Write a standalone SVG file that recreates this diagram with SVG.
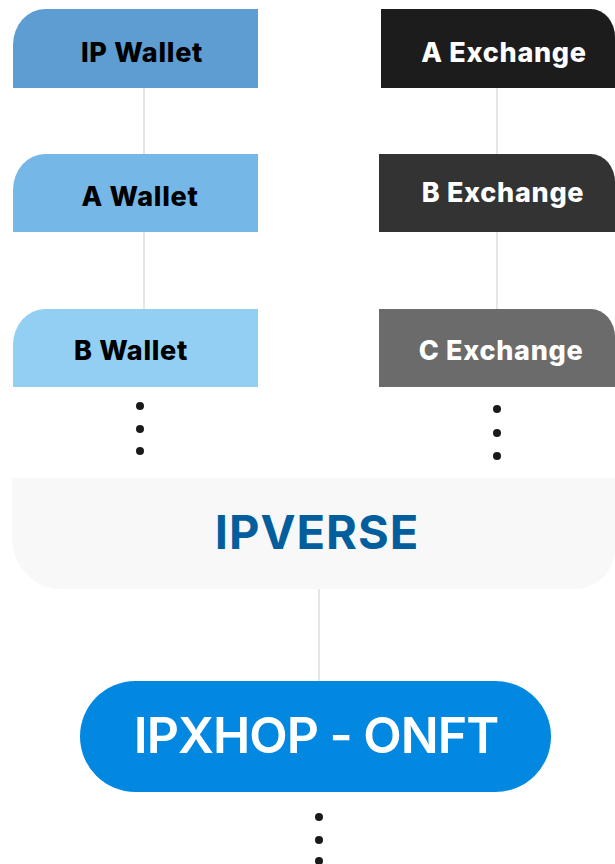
<svg xmlns="http://www.w3.org/2000/svg" width="615" height="864" viewBox="0 0 615 864">
<style>
.lbl{font-family:Inter,"Noto Sans","Liberation Sans",sans-serif;font-weight:800;font-size:27px;letter-spacing:0.7px;text-anchor:middle}
.dk{fill:#000}
.wt{fill:#fff}
.conn line{stroke:#d6d6d6;stroke-width:1.2}
.dot{fill:#1a1a1a}
</style>
<rect width="615" height="864" fill="#fff"/>
<g class="conn" id="connectors">
<line x1="144" y1="88" x2="144" y2="154"/>
<line x1="144" y1="232" x2="144" y2="309"/>
<line x1="497" y1="88" x2="497" y2="154"/>
<line x1="497" y1="232" x2="497" y2="309"/>
<line x1="319" y1="589" x2="319" y2="681"/>
</g>
<g id="ip-wallet">
<path d="M258,9 H45 A32,36 0 0 0 13,45 V88 H258 Z" fill="#5d9dd2"/>
<text class="lbl dk" x="142" y="62">IP Wallet</text>
</g>
<g id="a-wallet">
<path d="M258,154 H45 A32,36 0 0 0 13,190 V232 H258 Z" fill="#75b7e6"/>
<text class="lbl dk" x="140" y="206">A Wallet</text>
</g>
<g id="b-wallet">
<path d="M258,309 H45 A32,36 0 0 0 13,345 V387 H258 Z" fill="#92cff3"/>
<text class="lbl dk" x="131" y="360">B Wallet</text>
</g>
<g id="a-exchange">
<path d="M381,9 H591 A24,28 0 0 1 615,37 V88 H381 Z" fill="#1c1c1c"/>
<text class="lbl wt" x="504" y="62">A Exchange</text>
</g>
<g id="b-exchange">
<path d="M379,154 H591 A24,28 0 0 1 615,182 V232 H379 Z" fill="#333333"/>
<text class="lbl wt" x="503" y="202">B Exchange</text>
</g>
<g id="c-exchange">
<path d="M379,309 H591 A24,28 0 0 1 615,337 V387 H379 Z" fill="#6b6b6b"/>
<text class="lbl wt" x="501" y="360">C Exchange</text>
</g>
<g id="wallet-more">
<circle class="dot" cx="140" cy="406" r="4"/>
<circle class="dot" cx="140" cy="429" r="4"/>
<circle class="dot" cx="140" cy="451" r="4"/>
</g>
<g id="exchange-more">
<circle class="dot" cx="497" cy="409" r="4"/>
<circle class="dot" cx="497" cy="433" r="4"/>
<circle class="dot" cx="497" cy="456" r="4"/>
</g>
<g id="ipverse">
<path d="M12,478 H615 V549 A40,40 0 0 1 575,589 H60 A48,52 0 0 1 12,537 Z" fill="#f8f8f8"/>
<text x="317" y="549" font-family="Inter,'Noto Sans','Liberation Sans',sans-serif" font-weight="700" font-size="47" letter-spacing="1" fill="#025e9c" text-anchor="middle">IPVERSE</text>
</g>
<g id="ipxhop">
<rect x="80" y="681" width="471" height="111" rx="55.5" fill="#0288e1"/>
<text x="316" y="753" font-family="Inter,'Noto Sans','Liberation Sans',sans-serif" font-weight="600" font-size="50" letter-spacing="-1" fill="#fff" text-anchor="middle">IPXHOP - ONFT</text>
</g>
<g id="ipxhop-more">
<circle class="dot" cx="319" cy="817" r="4"/>
<circle class="dot" cx="319" cy="840" r="4"/>
<circle class="dot" cx="319" cy="861" r="4"/>
</g>
</svg>
